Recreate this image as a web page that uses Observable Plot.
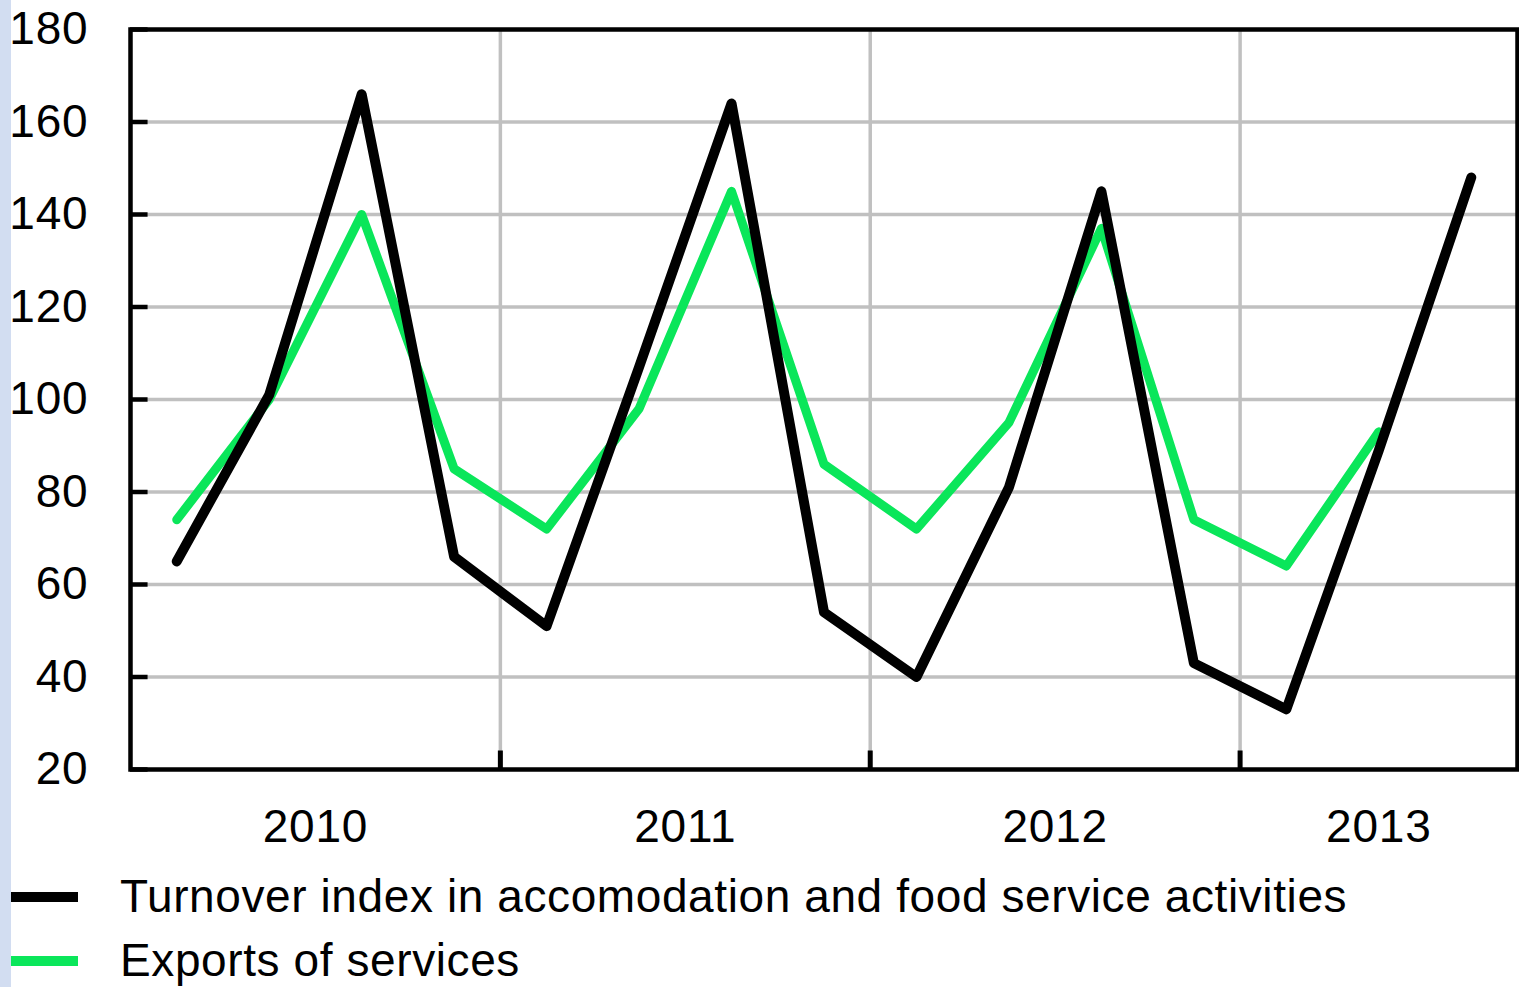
<!DOCTYPE html>
<html>
<head>
<meta charset="utf-8">
<script src="https://cdn.jsdelivr.net/npm/d3@7"></script>
<script src="https://cdn.jsdelivr.net/npm/@observablehq/plot@0.6"></script>
<style>
  html, body { margin: 0; padding: 0; background: #fff; }
  body { width: 1519px; height: 987px; position: relative; overflow: hidden; font-family: "Liberation Sans", Arial, sans-serif; }
  #strip { position: absolute; left: 0; top: 0; width: 11px; height: 987px; background: #d2ddf1; }
  #chart { position: absolute; left: 0; top: 0; }
  #chart svg text { letter-spacing: 0.8px; }
  .leg { position: absolute; left: 0; height: 46px; width: 1519px; }
  .sw { position: absolute; left: 11px; width: 67px; height: 10px; }
  .lt { position: absolute; left: 120px; top: 0; font-size: 46px; line-height: 46px; letter-spacing: 0.6px; color: #000; white-space: nowrap; }
</style>
</head>
<body>
<div id="strip"></div>
<div id="chart"></div>
<div id="legend"></div>
<script>
// ---- data ----
const years = [2010, 2011, 2012, 2013];
const quarters = ["Q1","Q2","Q3","Q4","Q1","Q2","Q3","Q4","Q1","Q2","Q3","Q4","Q1","Q2","Q3"];
const turnover = [65, 101, 166, 66, 51, 107, 164, 54, 40, 81, 145, 43, 33, 89, 148];
const exportsSvc = [74, 100, 140, 85, 72, 98, 145, 86, 72, 95, 137, 74, 64, 93];
const yTicks = [20, 40, 60, 80, 100, 120, 140, 160, 180];
const seriesNames = ["Turnover index in accomodation and food service activities", "Exports of services"];
const seriesColors = ["#000000", "#0ae65a"];

const turnoverData = turnover.map((v, i) => ({i, q: quarters[i], v}));
const exportsData = exportsSvc.map((v, i) => ({i, q: quarters[i], v}));
// year boundaries and label centers (in quarter units)
const yearStarts = years.map((y, k) => k * 4);
const yearBounds = yearStarts.slice(1);
const nQ = quarters.length;
const yearCenters = yearStarts.map(s => (s + Math.min(s + 4, nQ)) / 2);

const font = "'Liberation Sans', Arial, sans-serif";

const chart = Plot.plot({
  width: 1519,
  height: 860,
  marginLeft: 130,
  marginRight: 2,
  marginTop: 29,
  marginBottom: 91,
  style: {fontFamily: font, background: "transparent", color: "#000"},
  x: {type: "linear", domain: [0, nQ]},
  y: {domain: [20, 180]},
  marks: [
    Plot.ruleY(yTicks.slice(1, -1), {y: d => d, stroke: "#c0c0c0", strokeWidth: 3.5}),
    Plot.ruleX(yearBounds, {x: d => d, stroke: "#c0c0c0", strokeWidth: 3.5}),
    Plot.ruleY(yTicks, {y: d => d, x1: 0, x2: 0.19, stroke: "#000", strokeWidth: 4.5}),
    Plot.ruleX(yearBounds, {x: d => d, y1: 20, y2: 24, stroke: "#000", strokeWidth: 5}),
    Plot.line(exportsData, {x: d => d.i + 0.5, y: "v", stroke: seriesColors[1], strokeWidth: 9}),
    Plot.line(turnoverData, {x: d => d.i + 0.5, y: "v", stroke: seriesColors[0], strokeWidth: 10}),
    Plot.frame({stroke: "#000", strokeWidth: 4.5}),
    Plot.axisY(yTicks, {tickSize: 0, tickPadding: 42, fontSize: 46, fill: "#000", label: null}),
    Plot.axisX(yearCenters, {tickSize: 0, tickPadding: 40, fontSize: 46, fill: "#000", label: null,
      tickFormat: d => String(years[yearCenters.indexOf(d)])})
  ]
});
document.getElementById("chart").appendChild(chart);

// ---- legend ----
const legend = document.getElementById("legend");
const tops = [873, 937];
seriesNames.forEach((name, k) => {
  const row = document.createElement("div");
  row.className = "leg";
  row.style.top = tops[k] + "px";
  const sw = document.createElement("div");
  sw.className = "sw";
  sw.style.background = seriesColors[k];
  sw.style.top = "19px";
  const t = document.createElement("div");
  t.className = "lt";
  t.textContent = name;
  row.appendChild(sw);
  row.appendChild(t);
  legend.appendChild(row);
});
</script>
</body>
</html>
